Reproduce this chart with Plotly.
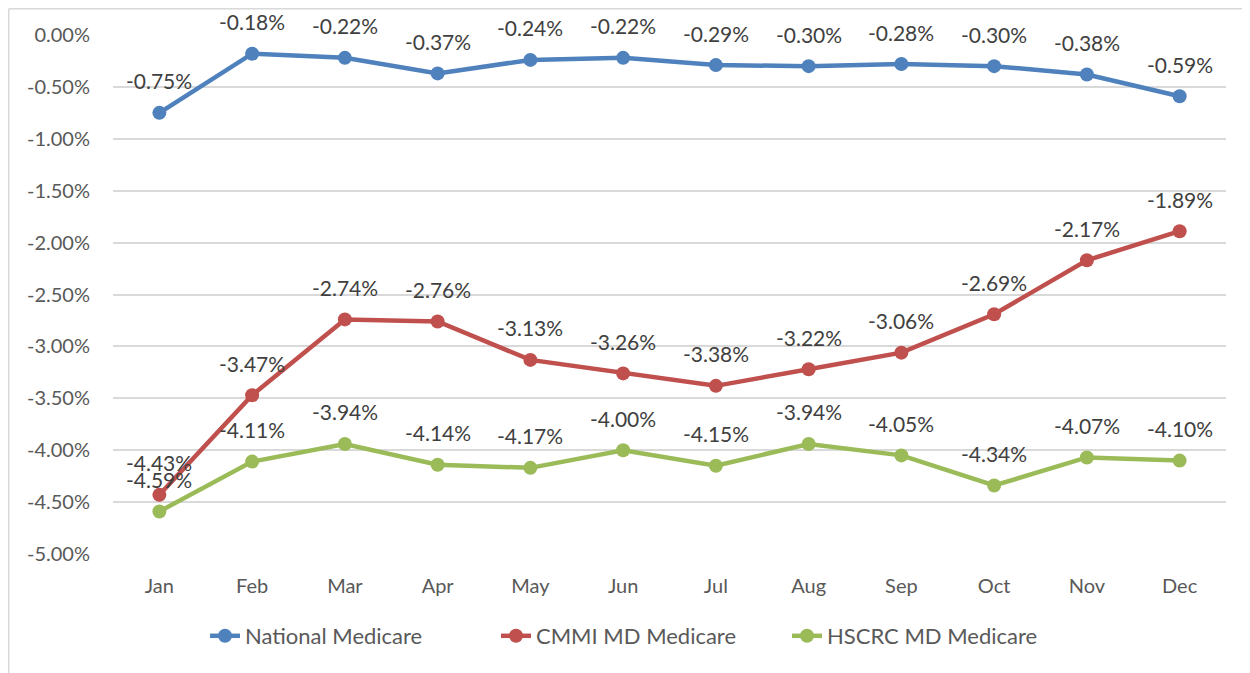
"""Monthly Medicare trend chart - Plotly recreation."""

import plotly.graph_objects as go

months = ['Jan', 'Feb', 'Mar', 'Apr', 'May', 'Jun', 'Jul', 'Aug', 'Sep', 'Oct', 'Nov', 'Dec']

national = [-0.75, -0.18, -0.22, -0.37, -0.24, -0.22, -0.29, -0.30, -0.28, -0.30, -0.38, -0.59]
cmmi = [-4.43, -3.47, -2.74, -2.76, -3.13, -3.26, -3.38, -3.22, -3.06, -2.69, -2.17, -1.89]
hscrc = [-4.59, -4.11, -3.94, -4.14, -4.17, -4.00, -4.15, -3.94, -4.05, -4.34, -4.07, -4.10]

y_ticks = [0, -0.5, -1, -1.5, -2, -2.5, -3, -3.5, -4, -4.5, -5]

series = [
    ('National Medicare', national, '#4F81BD'),
    ('CMMI MD Medicare', cmmi, '#C0504D'),
    ('HSCRC MD Medicare', hscrc, '#9BBB59'),
]

FONT = 'Lato, Carlito, Calibri, sans-serif'

fig = go.Figure()
annotations = []

for name, values, color in series:
    fig.add_trace(go.Scatter(
        x=months,
        y=values,
        mode='lines+markers',
        name=name,
        line=dict(color=color, width=4.5),
        marker=dict(size=14, color=color),
    ))
    # data labels above each point
    for m, v in zip(months, values):
        annotations.append(dict(
            x=m, y=v, text=f'{v:.2f}%', showarrow=False,
            yshift=32, font=dict(size=21, color='#404040', family=FONT),
        ))

# page body has an 8px margin, so figure coords = screen coords - 8
OFF = 8
FW, FH = 1250, 673
# plot area on screen: x 113..1226, y 35..554
L, R, T, B = 113 - OFF, 1226 - OFF, 35 - OFF, 554 - OFF
W, H = R - L, B - T


def px_x(x):
    return (x - OFF - L) / W


def px_y(y):
    return (B - (y - OFF)) / H


fig.update_layout(
    width=FW,
    height=FH,
    margin=dict(l=L, r=FW - R, t=T, b=FH - B, pad=0),
    paper_bgcolor='white',
    plot_bgcolor='white',
    font=dict(family=FONT, size=17, color='#595959'),
    annotations=annotations,
    showlegend=True,
    legend=dict(
        orientation='h',
        x=px_x(205), xanchor='left',
        y=px_y(636), yanchor='middle',
        font=dict(size=22, color='#595959', family=FONT),
        entrywidth=246,
        itemwidth=30,
        bgcolor='rgba(0,0,0,0)',
    ),
    shapes=[
        # outer chart frame (left and top edges visible)
        dict(type='line', xref='paper', yref='paper',
             x0=px_x(8.75), x1=px_x(8.75), y0=px_y(700), y1=px_y(8.75),
             line=dict(color='#D9D9D9', width=1.5)),
        dict(type='line', xref='paper', yref='paper',
             x0=px_x(8.75), x1=px_x(1260), y0=px_y(8.75), y1=px_y(8.75),
             line=dict(color='#D9D9D9', width=1.5)),
    ],
)

fig.update_xaxes(
    type='category',
    range=[-0.5, 11.5],
    showgrid=False,
    showline=False,
    zeroline=False,
    ticks='',
    ticklabelstandoff=18,
    tickfont=dict(size=20, color='#595959'),
)

fig.update_yaxes(
    range=[-5, 0],
    tickvals=y_ticks,
    ticktext=[f'{t:.2f}%' for t in y_ticks],
    showgrid=True,
    gridcolor='#D9D9D9',
    gridwidth=1.5,
    zeroline=False,
    showline=False,
    ticks='',
    ticklabelstandoff=22,
    tickfont=dict(size=20, color='#595959'),
)

fig.write_html('out.html')
